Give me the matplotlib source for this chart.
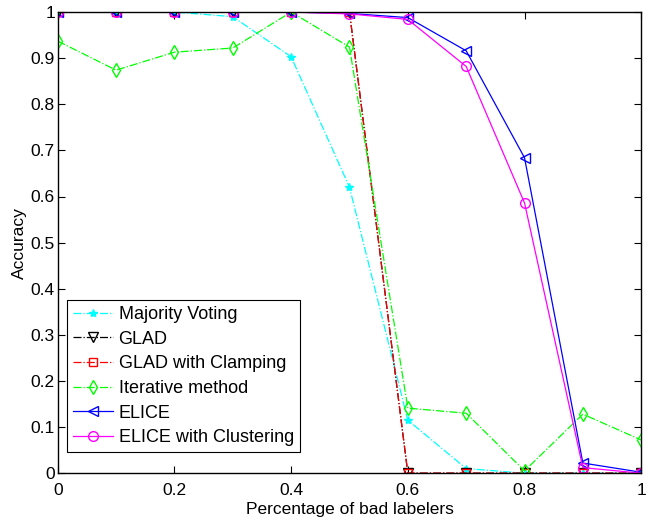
import numpy as np
import matplotlib.pyplot as plt

plt.rcParams['font.family'] = ['Liberation Sans', 'DejaVu Sans']

bad_frac = [0, 0.1, 0.2, 0.3, 0.4, 0.5, 0.6, 0.7, 0.8, 0.9, 1.0]
majority = [1, 1, 1, 0.99, 0.903, 0.62, 0.115, 0.01, 0.0, 0.0, 0.0]
glad = [1, 1, 1, 1, 1, 1, 0, 0, 0, 0, 0]
glad_clamp = [1, 1, 1, 1, 1, 1, 0, 0, 0, 0, 0]
iterative = [0.937, 0.874, 0.913, 0.922, 1.0, 0.924, 0.141, 0.130, 0.005, 0.128, 0.072]
elice = [1, 1, 1, 1, 1, 0.997, 0.988, 0.916, 0.684, 0.022, 0.002]
elice_clust = [1, 1, 1, 1, 1, 0.996, 0.984, 0.882, 0.586, 0.012, 0.0]

fig = plt.figure(figsize=(6.49, 5.24), dpi=100)
ax = fig.add_axes([0.089, 0.097, 0.899, 0.88])

ms = 7
ax.plot(bad_frac, majority, '-.', color='cyan', marker='*', ms=ms - 1, lw=0.9, label='Majority Voting')
ax.plot(bad_frac, glad, '-.', color='black', marker='v', ms=ms, mfc='none', lw=0.9, label='GLAD')
ax.plot(bad_frac, glad_clamp, '-.', color='red', marker='s', ms=ms - 1, mfc='none', lw=0.9, label='GLAD with Clamping')
ax.plot(bad_frac, iterative, '-.', color='#00ff00', marker='d', ms=ms, mfc='none', lw=0.9, label='Iterative method')
ax.plot(bad_frac, elice, '-', color='blue', marker='<', ms=ms, mfc='none', lw=0.9, label='ELICE')
ax.plot(bad_frac, elice_clust, '-', color='magenta', marker='o', ms=ms, mfc='none', lw=0.9, label='ELICE with Clustering')

ax.set_xlim(0, 1)
ax.set_ylim(0, 1)
ax.set_xticks([0, 0.2, 0.4, 0.6, 0.8, 1])
ax.set_xticklabels(['0', '0.2', '0.4', '0.6', '0.8', '1'])
ax.set_yticks(np.arange(0, 1.01, 0.1))
ax.set_yticklabels(['0', '0.1', '0.2', '0.3', '0.4', '0.5', '0.6', '0.7', '0.8', '0.9', '1'])
ax.tick_params(direction='in', top=True, right=True, labelsize=12.5, length=5)
ax.tick_params(axis='x', pad=7)
ax.tick_params(axis='y', pad=2)
for s in ax.spines.values():
    s.set_linewidth(1)
ax.set_xlabel('Percentage of bad labelers', fontsize=12.5, labelpad=3)
ax.set_ylabel('Accuracy', fontsize=12.5, labelpad=3)

leg = ax.legend(loc='lower left', bbox_to_anchor=(0.016, 0.045), fontsize=13, fancybox=False,
                edgecolor='black', framealpha=1, handlelength=2.2, borderaxespad=0,
                labelspacing=0.42, handletextpad=0.3, borderpad=0.35)
leg.get_frame().set_linewidth(0.8)

fig.savefig('out.png', dpi=100)
